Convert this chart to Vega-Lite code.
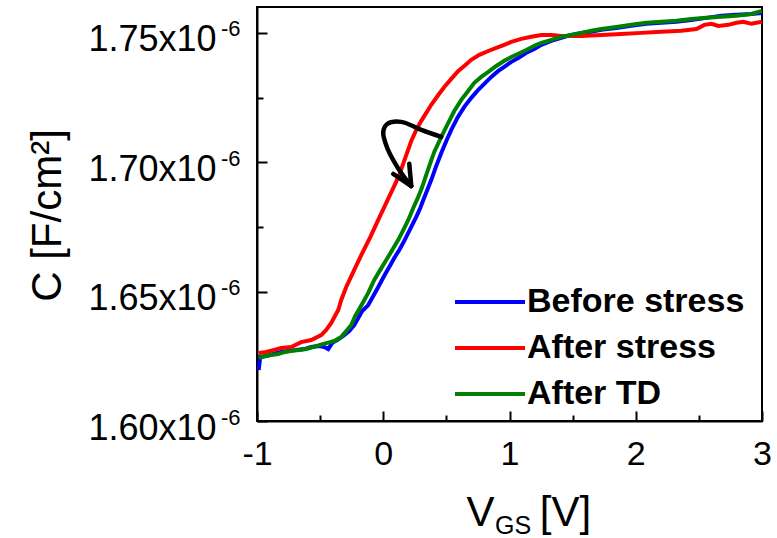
{
  "$schema": "https://vega.github.io/schema/vega-lite/v6.json",
  "width": 505,
  "height": 414,
  "autosize": "none",
  "padding": {"left": 257, "top": 7, "right": 15, "bottom": 117},
  "background": "white",
  "config": {
    "font": "Liberation Sans",
    "view": {"stroke": "black", "strokeWidth": 2},
    "axis": {
      "grid": false,
      "labelFont": "Liberation Sans",
      "titleFont": "Liberation Sans",
      "tickColor": "black",
      "domainColor": "black",
      "labelColor": "black",
      "titleColor": "black",
      "titleFontWeight": "normal",
      "tickWidth": 2,
      "domainWidth": 2,
      "labelFlush": false,
      "labelOverlap": false
    }
  },
  "datasets": {
    "curves": [
      {"s": "Before stress", "V": -0.9865, "C": 1.6197e-6},
      {"s": "Before stress", "V": -0.9747, "C": 1.6247e-6},
      {"s": "Before stress", "V": -0.9271, "C": 1.6251e-6},
      {"s": "Before stress", "V": -0.8716, "C": 1.6259e-6},
      {"s": "Before stress", "V": -0.8083, "C": 1.6267e-6},
      {"s": "Before stress", "V": -0.7528, "C": 1.6271e-6},
      {"s": "Before stress", "V": -0.6894, "C": 1.6274e-6},
      {"s": "Before stress", "V": -0.6260, "C": 1.6278e-6},
      {"s": "Before stress", "V": -0.5705, "C": 1.6286e-6},
      {"s": "Before stress", "V": -0.5071, "C": 1.6290e-6},
      {"s": "Before stress", "V": -0.4675, "C": 1.6286e-6},
      {"s": "Before stress", "V": -0.4358, "C": 1.6278e-6},
      {"s": "Before stress", "V": -0.4041, "C": 1.6302e-6},
      {"s": "Before stress", "V": -0.3645, "C": 1.6313e-6},
      {"s": "Before stress", "V": -0.3170, "C": 1.6329e-6},
      {"s": "Before stress", "V": -0.2694, "C": 1.6348e-6},
      {"s": "Before stress", "V": -0.2298, "C": 1.6371e-6},
      {"s": "Before stress", "V": -0.1981, "C": 1.6398e-6},
      {"s": "Before stress", "V": -0.1664, "C": 1.6425e-6},
      {"s": "Before stress", "V": -0.1189, "C": 1.6448e-6},
      {"s": "Before stress", "V": -0.0792, "C": 1.6483e-6},
      {"s": "Before stress", "V": -0.0396, "C": 1.6518e-6},
      {"s": "Before stress", "V": 0.0079, "C": 1.6561e-6},
      {"s": "Before stress", "V": 0.0475, "C": 1.6595e-6},
      {"s": "Before stress", "V": 0.0872, "C": 1.6630e-6},
      {"s": "Before stress", "V": 0.1268, "C": 1.6661e-6},
      {"s": "Before stress", "V": 0.1664, "C": 1.6696e-6},
      {"s": "Before stress", "V": 0.1981, "C": 1.6727e-6},
      {"s": "Before stress", "V": 0.2298, "C": 1.6758e-6},
      {"s": "Before stress", "V": 0.2615, "C": 1.6789e-6},
      {"s": "Before stress", "V": 0.2932, "C": 1.6823e-6},
      {"s": "Before stress", "V": 0.3170, "C": 1.6854e-6},
      {"s": "Before stress", "V": 0.3487, "C": 1.6893e-6},
      {"s": "Before stress", "V": 0.3804, "C": 1.6932e-6},
      {"s": "Before stress", "V": 0.4200, "C": 1.6986e-6},
      {"s": "Before stress", "V": 0.4596, "C": 1.7036e-6},
      {"s": "Before stress", "V": 0.4992, "C": 1.7082e-6},
      {"s": "Before stress", "V": 0.5388, "C": 1.7125e-6},
      {"s": "Before stress", "V": 0.5864, "C": 1.7171e-6},
      {"s": "Before stress", "V": 0.6418, "C": 1.7214e-6},
      {"s": "Before stress", "V": 0.6973, "C": 1.7249e-6},
      {"s": "Before stress", "V": 0.7528, "C": 1.7280e-6},
      {"s": "Before stress", "V": 0.8083, "C": 1.7307e-6},
      {"s": "Before stress", "V": 0.8558, "C": 1.7330e-6},
      {"s": "Before stress", "V": 0.9113, "C": 1.7353e-6},
      {"s": "Before stress", "V": 0.9588, "C": 1.7369e-6},
      {"s": "Before stress", "V": 1.0143, "C": 1.7388e-6},
      {"s": "Before stress", "V": 1.0697, "C": 1.7403e-6},
      {"s": "Before stress", "V": 1.1331, "C": 1.7423e-6},
      {"s": "Before stress", "V": 1.1965, "C": 1.7438e-6},
      {"s": "Before stress", "V": 1.2520, "C": 1.7454e-6},
      {"s": "Before stress", "V": 1.3312, "C": 1.7469e-6},
      {"s": "Before stress", "V": 1.4105, "C": 1.7481e-6},
      {"s": "Before stress", "V": 1.4897, "C": 1.7492e-6},
      {"s": "Before stress", "V": 1.5690, "C": 1.7500e-6},
      {"s": "Before stress", "V": 1.6482, "C": 1.7504e-6},
      {"s": "Before stress", "V": 1.7274, "C": 1.7512e-6},
      {"s": "Before stress", "V": 1.8463, "C": 1.7519e-6},
      {"s": "Before stress", "V": 1.9651, "C": 1.7527e-6},
      {"s": "Before stress", "V": 2.0840, "C": 1.7535e-6},
      {"s": "Before stress", "V": 2.2029, "C": 1.7539e-6},
      {"s": "Before stress", "V": 2.3217, "C": 1.7543e-6},
      {"s": "Before stress", "V": 2.4406, "C": 1.7550e-6},
      {"s": "Before stress", "V": 2.5594, "C": 1.7558e-6},
      {"s": "Before stress", "V": 2.6783, "C": 1.7566e-6},
      {"s": "Before stress", "V": 2.7971, "C": 1.7570e-6},
      {"s": "Before stress", "V": 2.9160, "C": 1.7573e-6},
      {"s": "Before stress", "V": 3.0, "C": 1.7577e-6},

      {"s": "After stress", "V": -0.9865, "C": 1.6263e-6},
      {"s": "After stress", "V": -0.9271, "C": 1.6267e-6},
      {"s": "After stress", "V": -0.8716, "C": 1.6274e-6},
      {"s": "After stress", "V": -0.8083, "C": 1.6282e-6},
      {"s": "After stress", "V": -0.7290, "C": 1.6286e-6},
      {"s": "After stress", "V": -0.6498, "C": 1.6305e-6},
      {"s": "After stress", "V": -0.5705, "C": 1.6313e-6},
      {"s": "After stress", "V": -0.4913, "C": 1.6332e-6},
      {"s": "After stress", "V": -0.4517, "C": 1.6352e-6},
      {"s": "After stress", "V": -0.4120, "C": 1.6379e-6},
      {"s": "After stress", "V": -0.3566, "C": 1.6429e-6},
      {"s": "After stress", "V": -0.3328, "C": 1.6468e-6},
      {"s": "After stress", "V": -0.2932, "C": 1.6518e-6},
      {"s": "After stress", "V": -0.2298, "C": 1.6584e-6},
      {"s": "After stress", "V": -0.1664, "C": 1.6649e-6},
      {"s": "After stress", "V": -0.1030, "C": 1.6711e-6},
      {"s": "After stress", "V": -0.0396, "C": 1.6777e-6},
      {"s": "After stress", "V": 0.0238, "C": 1.6843e-6},
      {"s": "After stress", "V": 0.0872, "C": 1.6909e-6},
      {"s": "After stress", "V": 0.1268, "C": 1.6951e-6},
      {"s": "After stress", "V": 0.1743, "C": 1.7017e-6},
      {"s": "After stress", "V": 0.2219, "C": 1.7082e-6},
      {"s": "After stress", "V": 0.2615, "C": 1.7125e-6},
      {"s": "After stress", "V": 0.3011, "C": 1.7160e-6},
      {"s": "After stress", "V": 0.3407, "C": 1.7191e-6},
      {"s": "After stress", "V": 0.3804, "C": 1.7222e-6},
      {"s": "After stress", "V": 0.4358, "C": 1.7260e-6},
      {"s": "After stress", "V": 0.4834, "C": 1.7291e-6},
      {"s": "After stress", "V": 0.5388, "C": 1.7322e-6},
      {"s": "After stress", "V": 0.5943, "C": 1.7353e-6},
      {"s": "After stress", "V": 0.6418, "C": 1.7372e-6},
      {"s": "After stress", "V": 0.6973, "C": 1.7396e-6},
      {"s": "After stress", "V": 0.7607, "C": 1.7415e-6},
      {"s": "After stress", "V": 0.8320, "C": 1.7430e-6},
      {"s": "After stress", "V": 0.8954, "C": 1.7442e-6},
      {"s": "After stress", "V": 0.9588, "C": 1.7454e-6},
      {"s": "After stress", "V": 1.0143, "C": 1.7465e-6},
      {"s": "After stress", "V": 1.0935, "C": 1.7477e-6},
      {"s": "After stress", "V": 1.1727, "C": 1.7485e-6},
      {"s": "After stress", "V": 1.2520, "C": 1.7492e-6},
      {"s": "After stress", "V": 1.3312, "C": 1.7492e-6},
      {"s": "After stress", "V": 1.4105, "C": 1.7488e-6},
      {"s": "After stress", "V": 1.5690, "C": 1.7488e-6},
      {"s": "After stress", "V": 1.7274, "C": 1.7492e-6},
      {"s": "After stress", "V": 1.8859, "C": 1.7496e-6},
      {"s": "After stress", "V": 2.0444, "C": 1.7500e-6},
      {"s": "After stress", "V": 2.2029, "C": 1.7504e-6},
      {"s": "After stress", "V": 2.3613, "C": 1.7508e-6},
      {"s": "After stress", "V": 2.4802, "C": 1.7515e-6},
      {"s": "After stress", "V": 2.5436, "C": 1.7531e-6},
      {"s": "After stress", "V": 2.5991, "C": 1.7535e-6},
      {"s": "After stress", "V": 2.6545, "C": 1.7527e-6},
      {"s": "After stress", "V": 2.7338, "C": 1.7531e-6},
      {"s": "After stress", "V": 2.7971, "C": 1.7539e-6},
      {"s": "After stress", "V": 2.8526, "C": 1.7543e-6},
      {"s": "After stress", "V": 2.9160, "C": 1.7535e-6},
      {"s": "After stress", "V": 3.0, "C": 1.7543e-6},

      {"s": "After TD", "V": -0.9865, "C": 1.6244e-6},
      {"s": "After TD", "V": -0.9350, "C": 1.6251e-6},
      {"s": "After TD", "V": -0.8875, "C": 1.6255e-6},
      {"s": "After TD", "V": -0.8320, "C": 1.6259e-6},
      {"s": "After TD", "V": -0.7766, "C": 1.6267e-6},
      {"s": "After TD", "V": -0.7211, "C": 1.6271e-6},
      {"s": "After TD", "V": -0.6656, "C": 1.6274e-6},
      {"s": "After TD", "V": -0.6102, "C": 1.6278e-6},
      {"s": "After TD", "V": -0.5547, "C": 1.6286e-6},
      {"s": "After TD", "V": -0.4992, "C": 1.6294e-6},
      {"s": "After TD", "V": -0.4437, "C": 1.6302e-6},
      {"s": "After TD", "V": -0.3883, "C": 1.6309e-6},
      {"s": "After TD", "V": -0.3328, "C": 1.6325e-6},
      {"s": "After TD", "V": -0.2932, "C": 1.6348e-6},
      {"s": "After TD", "V": -0.2536, "C": 1.6371e-6},
      {"s": "After TD", "V": -0.2219, "C": 1.6406e-6},
      {"s": "After TD", "V": -0.1902, "C": 1.6433e-6},
      {"s": "After TD", "V": -0.1585, "C": 1.6460e-6},
      {"s": "After TD", "V": -0.1189, "C": 1.6495e-6},
      {"s": "After TD", "V": -0.0713, "C": 1.6545e-6},
      {"s": "After TD", "V": -0.0238, "C": 1.6584e-6},
      {"s": "After TD", "V": 0.0238, "C": 1.6622e-6},
      {"s": "After TD", "V": 0.0713, "C": 1.6661e-6},
      {"s": "After TD", "V": 0.1189, "C": 1.6700e-6},
      {"s": "After TD", "V": 0.1585, "C": 1.6738e-6},
      {"s": "After TD", "V": 0.1981, "C": 1.6777e-6},
      {"s": "After TD", "V": 0.2377, "C": 1.6823e-6},
      {"s": "After TD", "V": 0.2773, "C": 1.6866e-6},
      {"s": "After TD", "V": 0.3090, "C": 1.6905e-6},
      {"s": "After TD", "V": 0.3407, "C": 1.6951e-6},
      {"s": "After TD", "V": 0.3724, "C": 1.6997e-6},
      {"s": "After TD", "V": 0.4041, "C": 1.7040e-6},
      {"s": "After TD", "V": 0.4596, "C": 1.7098e-6},
      {"s": "After TD", "V": 0.5151, "C": 1.7152e-6},
      {"s": "After TD", "V": 0.5626, "C": 1.7198e-6},
      {"s": "After TD", "V": 0.6181, "C": 1.7241e-6},
      {"s": "After TD", "V": 0.6736, "C": 1.7276e-6},
      {"s": "After TD", "V": 0.7211, "C": 1.7307e-6},
      {"s": "After TD", "V": 0.7766, "C": 1.7330e-6},
      {"s": "After TD", "V": 0.8320, "C": 1.7349e-6},
      {"s": "After TD", "V": 0.8954, "C": 1.7372e-6},
      {"s": "After TD", "V": 0.9588, "C": 1.7392e-6},
      {"s": "After TD", "V": 1.0143, "C": 1.7407e-6},
      {"s": "After TD", "V": 1.0697, "C": 1.7419e-6},
      {"s": "After TD", "V": 1.1331, "C": 1.7434e-6},
      {"s": "After TD", "V": 1.1965, "C": 1.7450e-6},
      {"s": "After TD", "V": 1.2520, "C": 1.7461e-6},
      {"s": "After TD", "V": 1.3312, "C": 1.7473e-6},
      {"s": "After TD", "V": 1.4105, "C": 1.7485e-6},
      {"s": "After TD", "V": 1.4897, "C": 1.7492e-6},
      {"s": "After TD", "V": 1.5690, "C": 1.7500e-6},
      {"s": "After TD", "V": 1.6482, "C": 1.7508e-6},
      {"s": "After TD", "V": 1.7274, "C": 1.7515e-6},
      {"s": "After TD", "V": 1.8463, "C": 1.7523e-6},
      {"s": "After TD", "V": 1.9651, "C": 1.7531e-6},
      {"s": "After TD", "V": 2.0840, "C": 1.7539e-6},
      {"s": "After TD", "V": 2.2029, "C": 1.7543e-6},
      {"s": "After TD", "V": 2.3217, "C": 1.7547e-6},
      {"s": "After TD", "V": 2.4406, "C": 1.7554e-6},
      {"s": "After TD", "V": 2.5594, "C": 1.7558e-6},
      {"s": "After TD", "V": 2.6783, "C": 1.7562e-6},
      {"s": "After TD", "V": 2.7971, "C": 1.7566e-6},
      {"s": "After TD", "V": 2.9160, "C": 1.7573e-6},
      {"s": "After TD", "V": 3.0, "C": 1.7585e-6}
    ],
    "arrow": [
      {"V": 0.4596, "C": 1.7098e-6},
      {"V": 0.3011, "C": 1.7125e-6},
      {"V": 0.1426, "C": 1.7156e-6},
      {"V": 0.0317, "C": 1.7148e-6},
      {"V": 0.0, "C": 1.7117e-6},
      {"V": 0.0317, "C": 1.7055e-6},
      {"V": 0.1109, "C": 1.6982e-6},
      {"V": 0.1823, "C": 1.6932e-6},
      {"V": 0.2219, "C": 1.6908e-6}
    ],
    "head": [
      {"part": "a", "V": 0.079, "C": 1.6955e-6},
      {"part": "a", "V": 0.2219, "C": 1.6908e-6},
      {"part": "b", "V": 0.206, "C": 1.6994e-6},
      {"part": "b", "V": 0.2219, "C": 1.6908e-6}
    ]
  },
  "layer": [
    {
      "data": {"name": "curves"},
      "mark": {"type": "line", "strokeWidth": 4, "clip": true},
      "encoding": {
        "x": {
          "field": "V", "type": "quantitative",
          "scale": {"domain": [-1, 3], "nice": false, "zero": false},
          "axis": {
            "values": [-1, 0, 1, 2, 3],
            "labelExpr": "datum.value + ''",
            "tickSize": -10,
            "labelFontSize": 34,
            "labelPadding": 26,
            "title": "V",
            "titleFontSize": 42,
            "titleX": 223,
            "titleY": 104,
            "titleAlign": "center",
            "titleBaseline": "alphabetic"
          }
        },
        "y": {
          "field": "C", "type": "quantitative",
          "scale": {"domain": [1.6e-6, 1.76e-6], "nice": false, "zero": false},
          "axis": {
            "values": [1.6e-6, 1.65e-6, 1.7e-6, 1.75e-6],
            "labelExpr": "format(datum.value * 1e6, '.2f') + 'x10'",
            "tickSize": -10,
            "labelFontSize": 36,
            "labelPadding": 51,
            "labelBaseline": "middle",
            "labelOffset": 7,
            "title": "C [F/cm²]",
            "titleFontSize": 42,
            "titleAngle": -90,
            "titleX": -197,
            "titleY": 208,
            "titleAlign": "center",
            "titleBaseline": "alphabetic"
          }
        },
        "color": {
          "field": "s", "type": "nominal",
          "scale": {"domain": ["Before stress", "After stress", "After TD"], "range": ["#0000FF", "#FF0000", "#008000"]},
          "legend": {
            "orient": "none",
            "legendX": 196,
            "legendY": 280,
            "title": null,
            "padding": 0,
            "symbolType": "stroke",
            "symbolSize": 4900,
            "symbolStrokeWidth": 4,
            "clipHeight": 30,
            "labelFontSize": 34,
            "labelFontWeight": "bold",
            "labelColor": "black",
            "labelLimit": 400,
            "labelOffset": 0,
            "rowPadding": 12
          }
        }
      }
    },
    {
      "data": {"name": "arrow"},
      "mark": {"type": "line", "interpolate": "catmull-rom", "color": "black", "strokeWidth": 4.5, "strokeCap": "round"},
      "encoding": {
        "x": {
          "field": "V", "type": "quantitative",
          "axis": {
            "orient": "bottom",
            "values": [-0.5, 0.5, 1.5, 2.5],
            "tickSize": -6,
            "labels": false,
            "domain": false,
            "title": "GS",
            "titleFontSize": 25,
            "titleX": 255.5,
            "titleY": 112,
            "titleAlign": "center",
            "titleBaseline": "alphabetic"
          }
        },
        "y": {
          "field": "C", "type": "quantitative",
          "axis": {
            "orient": "left",
            "values": [1.625e-6, 1.675e-6, 1.725e-6],
            "tickSize": -6,
            "labels": false,
            "domain": false,
            "title": null
          }
        },
        "order": {"value": null}
      }
    },
    {
      "data": {"name": "head"},
      "mark": {"type": "line", "color": "black", "strokeWidth": 4.5, "strokeCap": "round"},
      "encoding": {
        "x": {
          "field": "V", "type": "quantitative",
          "axis": {
            "orient": "bottom",
            "ticks": false,
            "labels": false,
            "domain": false,
            "title": "[V]",
            "titleFontSize": 42,
            "titleX": 308,
            "titleY": 104,
            "titleAlign": "center",
            "titleBaseline": "alphabetic"
          }
        },
        "y": {
          "field": "C", "type": "quantitative",
          "axis": {
            "orient": "left",
            "values": [1.6e-6, 1.65e-6, 1.7e-6, 1.75e-6],
            "labelExpr": "'-6'",
            "ticks": false,
            "domain": false,
            "labelFontSize": 22,
            "labelPadding": 17,
            "labelBaseline": "middle",
            "labelOffset": -4,
            "title": null
          }
        },
        "detail": {"field": "part"},
        "order": {"value": null}
      }
    }
  ],
  "resolve": {"axis": {"x": "independent", "y": "independent"}}
}
